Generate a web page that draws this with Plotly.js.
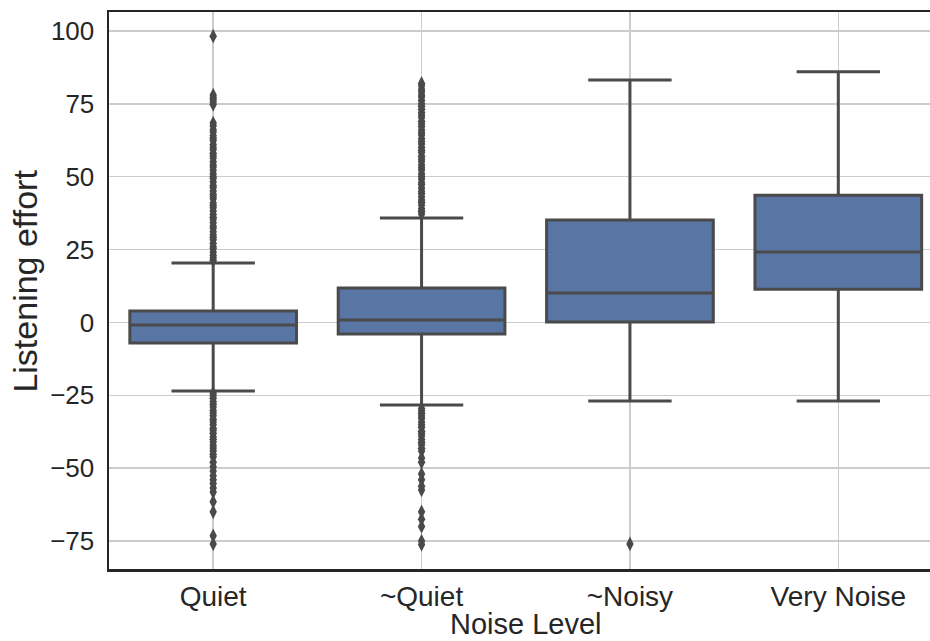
<!DOCTYPE html>
<html>
<head>
<meta charset="utf-8">
<script src="https://cdn.plot.ly/plotly-3.0.1.min.js"></script>
<style>
  html, body { margin: 0; padding: 0; background: #ffffff; }
  #chart { width: 930px; height: 641px; }
</style>
</head>
<body>
<div id="chart"></div>
<script>
// Noise level categories
const levels = ['Quiet', '~Quiet', '~Noisy', 'Very Noise'];

// Box statistics per noise level
const q1 = [-7.1, -4.0, 0.1, 11.4];
const median = [-0.9, 0.8, 10.1, 24.2];
const q3 = [3.9, 11.8, 35.1, 43.6];
const lowerWhisker = [-23.5, -28.3, -27.0, -27.0];
const upperWhisker = [20.4, 35.8, 83.2, 86.0];

// Outlying ratings per noise level
const quietOutliers = [
  98.2, 78.0, 77.2, 76.5, 75.6, 74.8, 68.4, 67.5, 66.1, 65.3, 64.0, 63.2, 62.4,
  61.0, 60.1, 59.3, 58.0, 57.2, 56.4, 55.1, 54.0, 53.3, 52.2, 51.0, 50.1, 49.4,
  48.2, 47.0, 46.3, 45.1, 44.0, 43.2, 42.4, 41.0, 40.1, 39.3, 38.2, 37.0, 36.1,
  35.4, 34.2, 33.0, 32.3, 31.1, 30.0, 29.2, 28.4, 27.1, 26.0, 25.3, 24.1, 23.0,
  22.2, 21.3,
  -24.3, -25.1, -26.0, -27.2, -28.1, -29.0, -30.2, -31.1, -32.0, -33.2, -34.1,
  -35.0, -36.3, -37.1, -38.0, -39.2, -40.1, -41.0, -42.2, -43.1, -44.0, -45.2,
  -46.1, -48.0, -49.5, -51.0, -52.6, -54.0, -55.3, -56.8, -58.2, -61.5, -65.0,
  -73.2, -76.0
];
const nearQuietOutliers = [
  37.2, 38.1, 39.0, 40.3, 41.2, 42.0, 43.1, 44.2, 45.0, 46.1, 47.3, 48.0, 49.2,
  50.1, 51.0, 52.3, 53.1, 54.0, 55.2, 56.1, 57.0, 58.3, 59.1, 60.0, 61.2, 62.1,
  63.0, 64.3, 65.1, 66.0, 67.2, 68.1, 69.0, 70.3, 71.2, 72.0, 73.1, 74.2, 75.0,
  76.1, 77.3, 78.0, 79.1, 80.0, 81.2, 82.0,
  -29.5, -30.4, -31.2, -32.1, -33.0, -34.2, -35.1, -36.0, -37.3, -38.1, -39.0,
  -40.2, -41.1, -42.0, -43.2, -44.1, -46.5, -48.0, -52.0, -54.0, -56.2, -57.5,
  -65.0, -67.5, -70.0, -75.0, -76.2
];
const nearNoisyOutliers = [-76.0];
const veryNoiseOutliers = [];

// Y-axis ticks
const yTicks = [-75, -50, -25, 0, 25, 50, 75, 100];

const boxLine = '#4a4a4a';
const textColor = '#262626';
const fontFamily = '"Liberation Sans", Arial, Helvetica, sans-serif';

const outlierGroups = [quietOutliers, nearQuietOutliers, nearNoisyOutliers, veryNoiseOutliers];
const outX = [];
const outY = [];
outlierGroups.forEach((vals, i) => {
  vals.forEach(v => { outX.push(levels[i]); outY.push(v); });
});

const boxes = {
  type: 'box',
  x: levels,
  q1: q1,
  median: median,
  q3: q3,
  lowerfence: lowerWhisker,
  upperfence: upperWhisker,
  boxpoints: false,
  width: 0.8,
  whiskerwidth: 0.5,
  fillcolor: '#5875a4',
  line: { color: boxLine, width: 3 },
  hoverinfo: 'skip',
  showlegend: false
};

const outliers = {
  type: 'scatter',
  mode: 'markers',
  x: outX,
  y: outY,
  marker: { symbol: 'diamond-tall', size: 10.5, color: boxLine, line: { width: 0 } },
  hoverinfo: 'y',
  showlegend: false
};

// The x axis spans -0.5..3.5; the figure edge clips it a little before 3.5,
// so the x title is centred on the full axis span rather than the visible one.
const xRange = [-0.5, 3.44];
const xTitleCentre = (1.5 - xRange[0]) / (xRange[1] - xRange[0]);

const layout = {
  width: 930,
  height: 641,
  margin: { l: 109, r: 0, t: 12, b: 72 },
  paper_bgcolor: '#ffffff',
  plot_bgcolor: '#ffffff',
  font: { family: fontFamily, color: textColor, size: 25 },
  xaxis: {
    type: 'category',
    categoryorder: 'array',
    categoryarray: levels,
    range: xRange,
    showgrid: true,
    gridcolor: '#cccccc',
    gridwidth: 1.5,
    zeroline: false,
    showline: true,
    mirror: true,
    linecolor: textColor,
    linewidth: 2.5,
    ticks: '',
    ticklabelstandoff: 1,
    tickfont: { size: 28, color: textColor },
    fixedrange: true
  },
  yaxis: {
    range: [-84.6, 106.5],
    tickvals: yTicks,
    showgrid: true,
    gridcolor: '#cccccc',
    gridwidth: 1.5,
    zeroline: false,
    showline: true,
    linecolor: textColor,
    linewidth: 2.5,
    ticks: '',
    ticklabelstandoff: 7,
    tickfont: { size: 26, color: textColor },
    fixedrange: true
  },
  annotations: [
    {
      text: 'Noise Level',
      xref: 'paper', yref: 'paper',
      x: xTitleCentre, y: 0,
      xanchor: 'center', yanchor: 'middle',
      yshift: -55,
      showarrow: false,
      font: { size: 29, color: textColor }
    },
    {
      text: 'Listening effort',
      textangle: -90,
      xref: 'paper', yref: 'paper',
      x: 0, y: 0.516,
      xanchor: 'center', yanchor: 'middle',
      xshift: -84,
      showarrow: false,
      font: { size: 34, color: textColor }
    }
  ]
};

Plotly.newPlot('chart', [boxes, outliers], layout, { displayModeBar: false, staticPlot: true });
</script>
</body>
</html>
